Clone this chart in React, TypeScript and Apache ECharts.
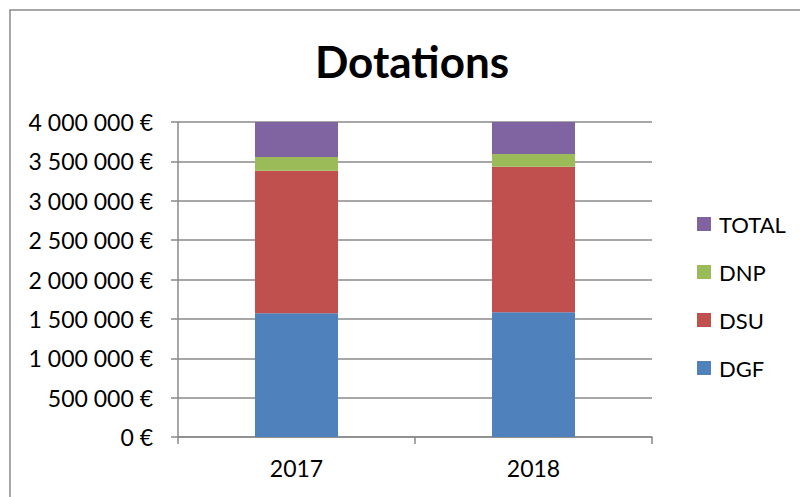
import React, { useEffect, useRef } from "react";
import * as echarts from "echarts";

const categories = ["2017", "2018"];
const dgf = [1571000, 1583000];
const dsu = [1811000, 1849000];
const dnp = [174000, 162000];
const total = [3556000, 3594000];
const legendOrder = ["TOTAL", "DNP", "DSU", "DGF"];

const fmt = (v: number) =>
  String(v).replace(/\B(?=(\d{3})+(?!\d))/g, " ") + " €";

export default function App() {
  const ref = useRef<HTMLDivElement>(null);
  useEffect(() => {
    document.body.style.margin = "0";
    const chart = echarts.init(ref.current!, null, { renderer: "svg" });
    const font = "Lato, 'Liberation Sans', sans-serif";
    const mk = (name: string, data: number[], color: string) => ({
      name,
      type: "bar",
      stack: "s",
      data,
      barWidth: 83,
      clip: true,
      itemStyle: { color },
    });
    chart.setOption({
      animation: false,
      backgroundColor: "#fff",
      textStyle: { fontFamily: font },
      title: {
        text: "Dotations",
        left: 407,
        textAlign: "center",
        top: 34,
        textStyle: { fontFamily: font, fontWeight: "bold", fontSize: 44, color: "#000" },
      },
      graphic: [
        {
          type: "rect",
          shape: { x: 10, y: 10, width: 800, height: 500 },
          style: { fill: "none", stroke: "#8a8a8a", lineWidth: 1.5 },
          silent: true,
        },
      ],
      legend: {
        orient: "vertical",
        left: 692,
        top: 208,
        itemWidth: 14,
        itemHeight: 14,
        itemGap: 26,
        icon: "rect",
        data: legendOrder,
        textStyle: { fontFamily: font, fontSize: 22, color: "#000", padding: [0, 0, 0, 3] },
      },
      grid: { left: 178, right: 148, top: 122, bottom: 60 },
      xAxis: {
        type: "category",
        data: categories,
        axisLine: { lineStyle: { color: "#8a8a8a", width: 1.5 } },
        axisTick: { show: true, length: 7, alignWithLabel: false, lineStyle: { color: "#8a8a8a", width: 1.5 } },
        axisLabel: { fontFamily: font, fontSize: 23, color: "#000", margin: 19 },
      },
      yAxis: {
        type: "value",
        min: 0,
        max: 4000000,
        interval: 500000,
        axisLine: { show: true, lineStyle: { color: "#8a8a8a", width: 1.5 } },
        axisTick: { show: true, length: 7, lineStyle: { color: "#8a8a8a", width: 1.5 } },
        splitLine: { lineStyle: { color: "#8a8a8a", width: 1.5 } },
        axisLabel: { fontFamily: font, fontSize: 23, color: "#000", margin: 25, formatter: fmt },
      },
      series: [
        mk("DGF", dgf, "#4F81BD"),
        mk("DSU", dsu, "#C0504D"),
        mk("DNP", dnp, "#9BBB59"),
        mk("TOTAL", total, "#8064A2"),
      ],
    });
    return () => chart.dispose();
  }, []);
  return <div ref={ref} style={{ width: 800, height: 497 }} />;
}
